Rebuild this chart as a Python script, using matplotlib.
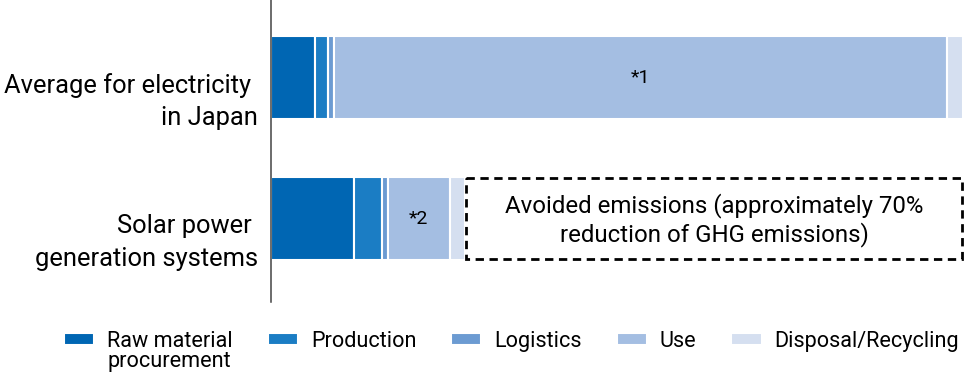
import matplotlib.pyplot as plt
from matplotlib.patches import Rectangle
from matplotlib.transforms import ScaledTranslation

plt.rcParams['font.family'] = ['Roboto', 'DejaVu Sans']

# data (share of the Japanese grid average, total = 100)
categories = ['Average for electricity \nin Japan', 'Solar power \ngeneration systems']
stages = ['Raw material', 'Production', 'Logistics', 'Use', 'Disposal/Recycling']
japan = [6.4, 1.9, 0.85, 88.6, 2.3]
solar = [12.0, 4.05, 0.85, 8.95, 2.2]
use_notes = ['*1', '*2']
colors = ['#0066b3', '#1b7dc4', '#6c9bd2', '#a4bee2', '#d5dff0']

values = [japan, solar]

fig, ax = plt.subplots(figsize=(9.64, 3.75), dpi=100)
fig.subplots_adjust(left=271/964, right=1.0, top=1.0, bottom=1 - 302/375)

for i, row in enumerate(values):
    left = 0
    for j, v in enumerate(row):
        ax.barh(i, v, left=left, height=0.59, color=colors[j], edgecolor='white',
                linewidth=1.5, label=stages[j] if i == 0 else None)
        if stages[j] == 'Use':
            ax.text(left + v / 2, i, use_notes[i], ha='center', va='center', fontsize=14)
        left += v

# avoided emissions box
total_solar = sum(solar)
avoided = 100 - total_solar
ax.add_patch(Rectangle((total_solar + 0.1, 1 - 0.285), avoided - 0.3, 0.57, fill=False,
                       edgecolor='black', linestyle=(0, (3, 2)), linewidth=2, clip_on=False))
ax.text(total_solar + avoided / 2, 1.01, 'Avoided emissions (approximately 70%\nreduction of GHG emissions)',
        ha='center', va='center', fontsize=17.3)

ax.set_yticks(range(len(categories)))
ax.set_yticklabels(categories, fontsize=18.4)
ax.tick_params(axis='y', length=0, pad=9.5)
shift = ScaledTranslation(0, -0.17, fig.dpi_scale_trans)
for lab in ax.get_yticklabels():
    lab.set_linespacing(1.45)
    lab.set_transform(lab.get_transform() + shift)
ax.set_xticks([])
ax.set_xlim(0, 100.15)
ax.set_ylim(1.592, -0.55)
for s in ['top', 'right', 'bottom']:
    ax.spines[s].set_visible(False)
ax.spines['left'].set_color('#444444')
ax.spines['left'].set_linewidth(1.1)

leg = fig.legend(loc='upper left', bbox_to_anchor=(64/964, 1 - 331/375), ncol=5,
                 frameon=False, fontsize=15.6, borderpad=0, borderaxespad=0,
                 handlelength=1.4, handleheight=0.5, handletextpad=0.6, columnspacing=1.6)

# second line of the first legend label, tucked under "Raw material"
fig.canvas.draw()
bb = leg.get_texts()[0].get_window_extent()
fig.text(bb.x0, bb.y0 + 1, 'procurement', fontsize=15.6, ha='left', va='top',
         transform=None)

fig.savefig('out.png', dpi=100)
